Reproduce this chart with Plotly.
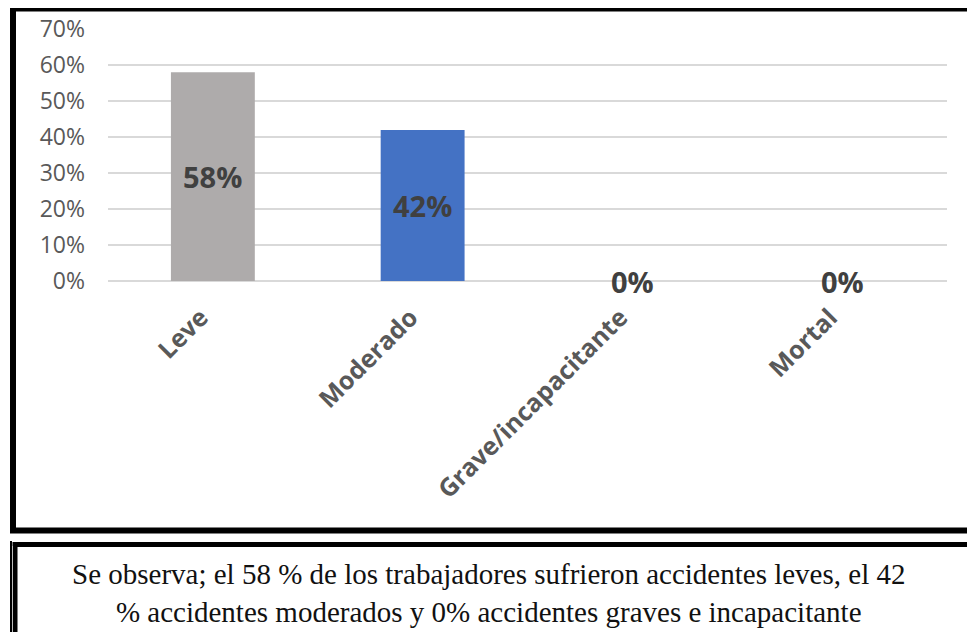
import plotly.graph_objects as go

categorias = ["Leve", "Moderado", "Grave/incapacitante", "Mortal"]
porcentajes = [0.58, 0.42, 0.0, 0.0]
etiquetas = ["58%", "42%", "0%", "0%"]
colores = ["#AEABAB", "#4472C4", "#4472C4", "#4472C4"]
nota = ("Se observa; el 58 % de los trabajadores sufrieron accidentes leves, el 42<br>"
        "% accidentes moderados y 0% accidentes graves e incapacitante")

W, H = 975, 632
OFF = 8  # page body margin
L, R, T, B = 108 - OFF, 28 + OFF, 29 - OFF, 351 + OFF


# page pixel -> paper coordinates
def px(x):
    return (x - OFF - L) / (W - L - R)


def py(y):
    return (H - B - (y - OFF)) / (H - T - B)


fig = go.Figure()
fig.add_trace(go.Bar(x=categorias, y=porcentajes, marker=dict(color=colores, line=dict(width=0)),
                     hoverinfo="skip"))

# data labels centred in each bar (on the baseline for zero values)
for c, v, t in zip(categorias, porcentajes, etiquetas):
    fig.add_annotation(x=c, y=v / 2, text="<b>%s</b>" % t, showarrow=False,
                       xanchor="center", yanchor="middle",
                       font=dict(family="Open Sans", size=29, color="#404040"))

shapes = [
    # chart frame
    dict(type="rect", xref="paper", yref="paper", x0=px(13), x1=px(1000), y0=py(8.5), y1=py(530.5),
         line=dict(color="black", width=6), layer="below"),
    # text box frame
    dict(type="rect", xref="paper", yref="paper", x0=px(15), x1=px(1000), y0=py(544.5), y1=py(660),
         line=dict(color="black", width=5), layer="below"),
    dict(type="line", xref="paper", yref="paper", x0=px(11), x1=px(11), y0=py(541), y1=py(640),
         line=dict(color="black", width=2)),
    dict(type="line", xref="paper", yref="paper", x0=px(12.5), x1=px(12.5), y0=py(546), y1=py(640),
         line=dict(color="#BBBBBB", width=1)),
]
fig.update_layout(shapes=shapes)

fig.add_annotation(xref="paper", yref="paper", x=px(488), y=py(593), text=nota, showarrow=False,
                   xanchor="center", yanchor="middle", align="center",
                   font=dict(family="Liberation Serif", size=29, color="#111111"))

fig.update_layout(
    width=W, height=H,
    margin=dict(l=L, r=R, t=T, b=B),
    paper_bgcolor="white", plot_bgcolor="white",
    bargap=0.6, showlegend=False,
    font=dict(family="Open Sans", color="#595959"),
)
fig.update_xaxes(tickangle=-45, tickfont=dict(size=25, family="Open Sans", weight="bold", color="#595959"),
                 showline=False, ticks="", showgrid=False, automargin=False,
                 ticklabelstandoff=16, ticklabelshift=-12)
fig.update_yaxes(range=[0, 0.7005], tickvals=[0, 0.1, 0.2, 0.3, 0.4, 0.5, 0.6, 0.7], tickformat=".0%",
                 showgrid=True, gridcolor="#D9D9D9", gridwidth=2,
                 zeroline=True, zerolinecolor="#D9D9D9", zerolinewidth=2,
                 ticks="", ticklabelstandoff=22, automargin=False,
                 tickfont=dict(size=23, family="Open Sans", color="#595959"))

fig.write_html("out.html")
